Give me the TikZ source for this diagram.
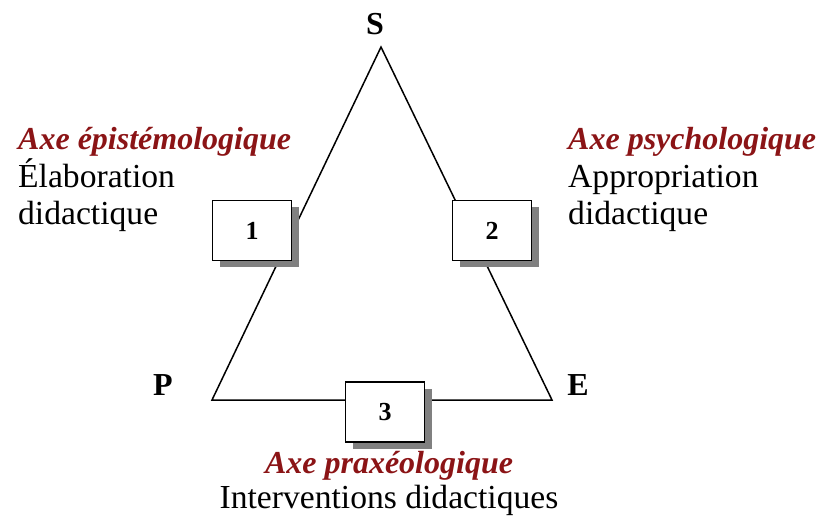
\documentclass[tikz,border=0pt]{standalone}
\usepackage{fontspec}
\setmainfont{Liberation Serif}
\usetikzlibrary{shadows}
\definecolor{axered}{RGB}{139,20,22}
\definecolor{shadowgray}{RGB}{128,128,128}
\tikzset{
  numbox/.style={draw, line width=1.6pt, fill=white, minimum width=79pt, minimum height=60pt,
    font=\fontsize{26}{30}\selectfont\bfseries, inner sep=0pt,
    drop shadow={shadow xshift=7pt, shadow yshift=-7pt, fill=shadowgray, opacity=1}},
  corner/.style={font=\fontsize{32}{36}\selectfont\bfseries, inner sep=0pt},
  axe/.style={font=\fontsize{32}{37}\selectfont\bfseries\itshape, text=axered, inner sep=0pt},
  desc/.style={font=\fontsize{33.6}{37}\selectfont, inner sep=0pt},
  tri/.style={line width=1.5pt}
}
\begin{document}
\begin{tikzpicture}[x=1pt,y=-1pt]
\useasboundingbox (0,0) rectangle (831,516);
\coordinate (top) at (381,47);
\coordinate (left) at (212,400);
\coordinate (right) at (552,400);
\draw[tri] (top) -- (left) -- (right) -- cycle;
\node[numbox] (b1) at (252,230.5) {1};
\node[numbox] (b2) at (492,230.5) {2};
\node[numbox] (b3) at (385,412) {3};
\node[corner] (S) at (375,24) {S};
\node[corner] (P) at (163,385) {P};
\node[corner] (E) at (578,385) {E};
\node[axe, anchor=base west] (a1) at (18,150) {Axe épistémologique};
\node[desc, anchor=base west] (d1a) at (18,188) {Élaboration};
\node[desc, anchor=base west] (d1b) at (18,225) {didactique};
\node[axe, anchor=base west] (a2) at (568,150) {Axe psychologique};
\node[desc, anchor=base west] (d2a) at (568,188) {Appropriation};
\node[desc, anchor=base west] (d2b) at (568,225) {didactique};
\node[axe, anchor=base] (a3) at (389,473) {Axe praxéologique};
\node[desc, anchor=base] (d3) at (389,508) {Interventions didactiques};
\end{tikzpicture}
\end{document}
